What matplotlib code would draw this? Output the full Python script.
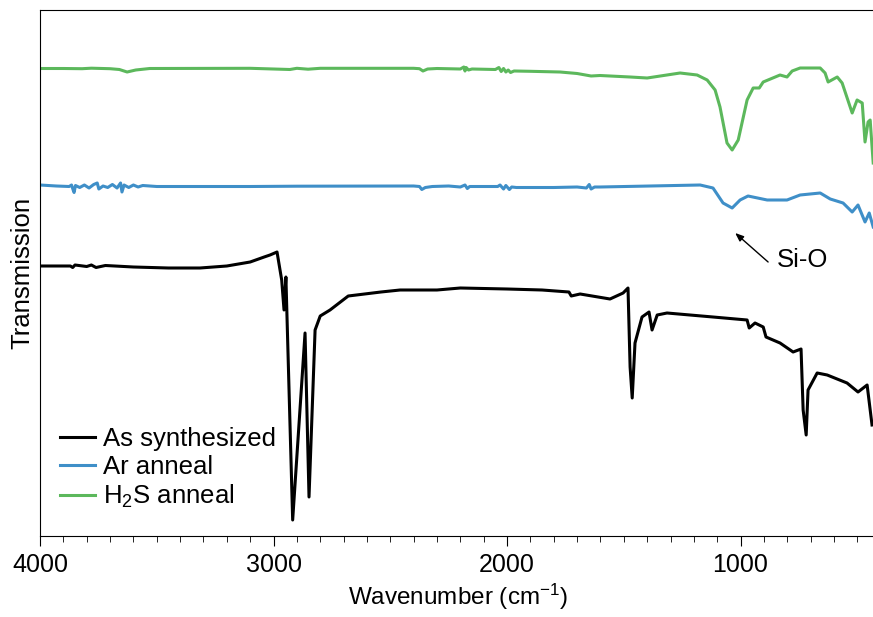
import matplotlib.pyplot as plt
from matplotlib.ticker import MultipleLocator

plt.rcParams['font.family'] = ['Liberation Sans', 'DejaVu Sans']
plt.rcParams['mathtext.fontset'] = 'custom'
plt.rcParams['mathtext.rm'] = 'Liberation Sans'
plt.rcParams['mathtext.default'] = 'regular'

# wavenumber (cm-1) and transmission (arb. units, offset)
as_wn = [4000, 3870, 3860, 3850, 3800, 3780, 3760, 3720, 3600, 3450, 3315,
         3200, 3100, 3040, 3015, 2985, 2965, 2955, 2947, 2918, 2865, 2848,
         2822, 2800, 2758, 2680, 2540, 2458, 2300, 2200, 2000, 1850, 1735,
         1725, 1687, 1559, 1503, 1482, 1473, 1464, 1452, 1422, 1392, 1379,
         1357, 1315, 1118, 972, 963, 938, 903, 891, 831, 775, 741, 732, 719,
         711, 672, 629, 544, 497, 458, 437]
as_tr = [270, 270, 268.5, 271, 269.5, 271, 268.5, 270.5, 269, 268, 268,
         270, 274, 279, 281, 284, 256, 226, 259, 16, 203, 39,
         206, 220, 226, 240, 244, 246, 246, 248, 247, 246, 244,
         240, 242, 237, 243, 248, 169, 138, 193, 219, 224, 206,
         221, 223, 219, 216, 208, 213, 209, 199, 193, 184, 187, 126, 101,
         146, 163, 161, 153, 144, 151, 111]

ar_wn = [4000, 3930, 3875, 3865, 3858, 3854, 3848, 3830, 3810, 3790, 3770,
         3755, 3748, 3730, 3710, 3690, 3670, 3655, 3649, 3640, 3620, 3600,
         3580, 3560, 3500, 3100, 2900, 2400, 2375, 2365, 2350, 2320, 2250,
         2200, 2180, 2170, 2160, 2100, 2040, 2030, 2015, 2005, 1990, 1980,
         1960, 1800, 1700, 1660, 1648, 1640, 1625, 1602, 1173, 1118, 1075,
         1036, 1002, 968, 886, 801, 745, 659, 616, 561, 522, 497, 467, 449,
         432]
ar_tr = [351, 350, 349.5, 351, 346, 343.5, 350.5, 348.5, 351, 348, 351.5,
         353, 347, 350, 348.5, 351.5, 348, 353, 344, 351, 348.5, 351,
         349, 350.5, 349.5, 349.5, 349.8, 350, 349.5, 346.5, 348.5, 349.5, 350,
         349, 351, 347.5, 349.5, 349.5, 349.5, 351, 347, 350.5, 346.5, 349,
         348.5, 348.5, 349, 348, 351.5, 347, 349, 349, 351, 348, 333,
         328, 336, 340, 336, 336, 341, 343, 337, 333, 324, 331, 314, 323,
         309]

h2s_wn = [4000, 3900, 3820, 3780, 3700, 3660, 3627, 3590, 3530, 3100, 2930,
          2900, 2852, 2800, 2400, 2375, 2360, 2340, 2300, 2200, 2185, 2180,
          2175, 2165, 2150, 2050, 2035, 2025, 2015, 2005, 1995, 1985, 1970,
          1900, 1773, 1700, 1640, 1602, 1473, 1400, 1259, 1186, 1143, 1109,
          1088, 1058, 1036, 1010, 972, 946, 920, 903, 831, 801, 779, 745, 659,
          638, 625, 586, 565, 522, 501, 479, 467, 454, 445, 432]
h2s_tr = [467.5, 467.5, 467.3, 467.8, 467.3, 466.5, 464, 466, 467.5, 467.7,
          466.5, 467.7, 466.8, 467.7, 467.7, 467.3, 465, 467, 467.5, 467,
          469, 465, 468.5, 466, 467, 466.5, 468.5, 464.5, 467.5, 464, 466,
          463.5, 465, 464.7, 464, 462.5, 460, 460.5, 459, 458, 463, 461, 456,
          446, 429, 393, 386, 396, 436, 448, 448, 454, 461, 459, 465, 468,
          468, 463, 454, 459, 453, 423, 436, 433, 394, 414, 416, 373]

si_o_tip = (1023, 303)
si_o_tail = (882, 274)
si_o_label = (843, 276)

fig = plt.figure(figsize=(8.73, 6.17), dpi=100)
ax = fig.add_axes([40 / 873, 81 / 617, 836 / 873, 526 / 617])

ax.plot(as_wn, as_tr, color='black', lw=2.2, label='As synthesized')
ax.plot(ar_wn, ar_tr, color='#3f8fc8', lw=2.2, label='Ar anneal')
ax.plot(h2s_wn, h2s_tr, color='#5cb85c', lw=2.2, label='H$_2$S anneal')

# Si-O marker
ax.annotate('', xy=si_o_tip, xytext=si_o_tail,
            arrowprops=dict(arrowstyle='-|>,head_length=0.5,head_width=0.2',
                            color='black', lw=1.0, shrinkA=0, shrinkB=0))
ax.text(*si_o_label, 'Si-O', fontsize=18.5, ha='left', va='center')

ax.set_xlim(4000, 420)
ax.set_ylim(0, 526)
ax.xaxis.set_major_locator(MultipleLocator(1000))
ax.xaxis.set_minor_locator(MultipleLocator(100))
ax.tick_params(axis='x', which='major', direction='out', length=7,
               labelsize=18, pad=5)
ax.tick_params(axis='x', which='minor', direction='out', length=4)
ax.set_yticks([])
ax.spines['right'].set_visible(False)

ax.set_xlabel('Wavenumber (cm$^{-1}$)', fontsize=17.5, labelpad=4)
ax.set_ylabel('Transmission', fontsize=18.5, labelpad=4)

ax.legend(loc='lower left', bbox_to_anchor=(0.012, 0.03), frameon=False,
          fontsize=18.5, handlelength=1.35, handletextpad=0.3,
          labelspacing=0.15, borderaxespad=0)

fig.savefig('out.png', dpi=100)
